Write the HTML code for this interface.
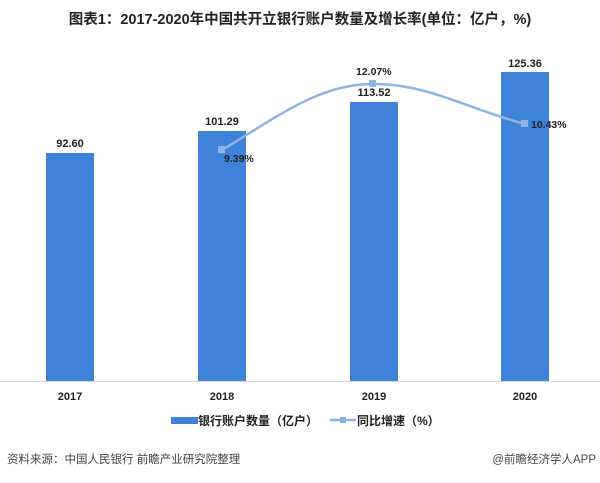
<!DOCTYPE html>
<html><head><meta charset="utf-8"><style>
body{margin:0;background:#fff;width:600px;height:478px;overflow:hidden}
svg text{font-family:"Liberation Sans","Noto Sans CJK SC",sans-serif}
</style></head><body>
<svg width="600" height="478" viewBox="0 0 600 478">
<text x="300" y="24" text-anchor="middle" font-size="14.5" font-weight="bold" fill="#222">图表1：2017-2020年中国共开立银行账户数量及增长率(单位：亿户，%)</text>
<line x1="0" y1="381.5" x2="600" y2="381.5" stroke="#d6d6d6" stroke-width="1"/>
<g fill="#3f82d9">
<rect x="46" y="153" width="48" height="228"/>
<rect x="198" y="131" width="48" height="250"/>
<rect x="350" y="102" width="48" height="279"/>
<rect x="501" y="72" width="48" height="309"/>
</g>
<g font-size="11" font-weight="bold" fill="#222" text-anchor="middle">
<text x="70" y="147">92.60</text>
<text x="222" y="125">101.29</text>
<text x="374" y="96">113.52</text>
<text x="525" y="67">125.36</text>
<text x="70" y="400">2017</text>
<text x="222" y="400">2018</text>
<text x="374" y="400">2019</text>
<text x="525" y="400">2020</text>
</g>
<path d="M222,150 C280,115 320,84 373,84 C430,84 470,110 525,124" fill="none" stroke="#8db4e2" stroke-width="2.5"/>
<g fill="#8db4e2"><rect x="218" y="146" width="7" height="7"/><rect x="369" y="80" width="7" height="7"/><rect x="521" y="120" width="7" height="7"/></g>
<g font-size="10.5" font-weight="bold" fill="#222">
<text x="224" y="162">9.39%</text>
<text x="356" y="75">12.07%</text>
<text x="531" y="128">10.43%</text>
</g>
<rect x="171" y="417" width="27" height="7" fill="#3f82d9"/>
<text x="198" y="425" font-size="12" font-weight="bold" fill="#222">银行账户数量（亿户）</text>
<line x1="330" y1="420" x2="356" y2="420" stroke="#8db4e2" stroke-width="2.5"/>
<rect x="340" y="417" width="6" height="6" fill="#8db4e2"/>
<text x="357" y="425" font-size="12" font-weight="bold" fill="#222">同比增速（%）</text>
<text x="7" y="463" font-size="11.5" fill="#444">资料来源：中国人民银行 前瞻产业研究院整理</text>
<text x="596" y="463" font-size="11.5" fill="#444" text-anchor="end">@前瞻经济学人APP</text>
</svg>
</body></html>
